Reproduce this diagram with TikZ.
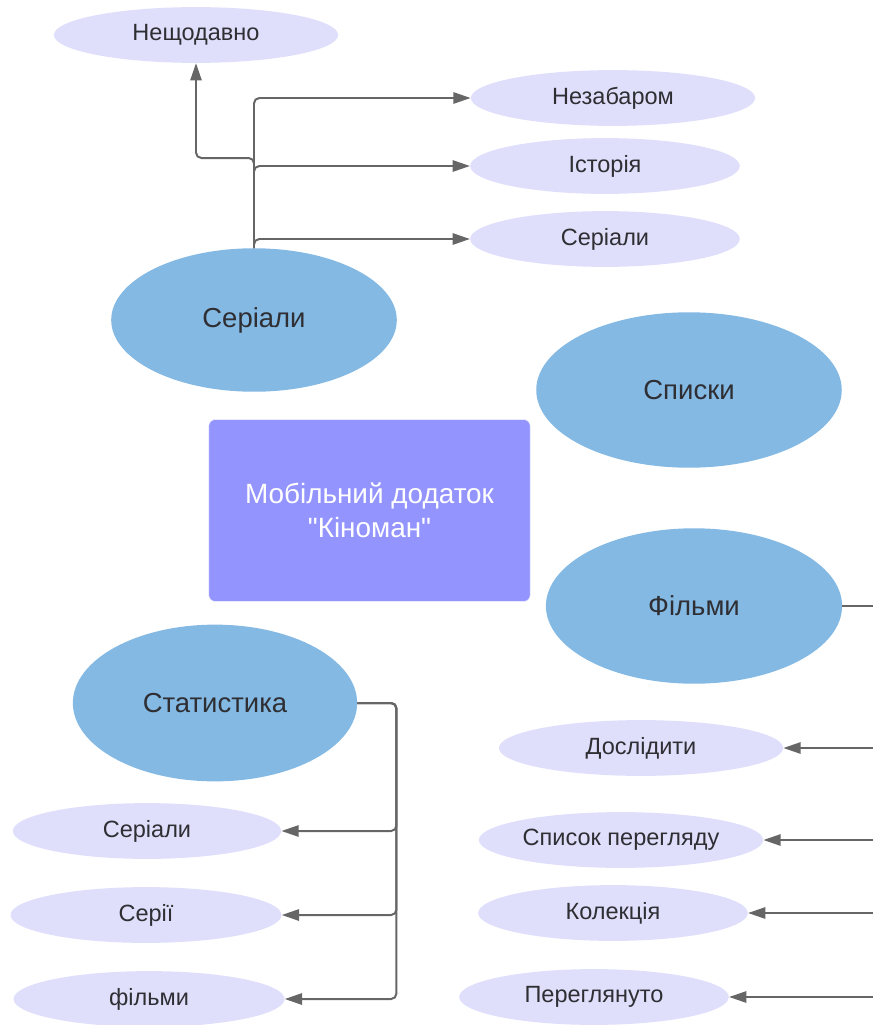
\documentclass[tikz,border=0pt]{standalone}
\usepackage{fontspec}
\setmainfont{Liberation Sans}[Ligatures=TeXOff]
\usetikzlibrary{arrows.meta,shapes.geometric}
\definecolor{bigblue}{HTML}{84B9E3}
\definecolor{lavender}{HTML}{DFDFFC}
\definecolor{appviolet}{HTML}{9494FF}
\definecolor{linkgray}{HTML}{666666}
\definecolor{textdark}{HTML}{2E2E33}

\begin{document}
\begin{tikzpicture}[
  x=0.0264583cm,y=-0.0264583cm,
  big/.style={ellipse,fill=bigblue,inner sep=0pt,text=textdark,font=\fontsize{20.7}{24}\selectfont},
  small/.style={ellipse,fill=lavender,inner sep=0pt,minimum height=42pt,text=textdark,font=\fontsize{17.7}{20}\selectfont},
  app/.style={draw=white!80!appviolet,fill=appviolet,rounded corners=5pt,minimum width=242pt,minimum height=137pt,
    text=white,align=center,font=\fontsize{21}{25.5}\selectfont},
  link/.style={-{Triangle[length=13pt,width=8.5pt]},line width=1.5pt,draw=linkgray,rounded corners=4pt},
  line/.style={line width=1.5pt,draw=linkgray}
]
  \useasboundingbox (0,0) rectangle (873,1025);

  \node[big,minimum width=215pt,minimum height=108pt] (serialy) at (254,320) {Серіали};
  \node[big,minimum width=230pt,minimum height=117pt] (spysky) at (689,390) {Списки};
  \node[big,minimum width=223pt,minimum height=117pt] (filmy) at (694,606) {Фільми};
  \node[big,minimum width=214pt,minimum height=118pt] (statystyka) at (215,703) {Статистика};
  \node[app] (dodatok) at (369.5,510.5) {Мобільний додаток\\"Кіноман"};

  \node[small,minimum width=214pt] (nedavno) at (196,35) {Нещодавно};
  \node[small,minimum width=214pt] (nezabarom) at (613,98) {Незабаром};
  \node[small,minimum width=203pt] (istoriia) at (605,166) {Історія};
  \node[small,minimum width=203pt] (serialy2) at (605,239) {Серіали};

  \node[small,minimum width=214pt] (doslidyty) at (641,748) {Дослідити};
  \node[small,minimum width=214pt] (spysok) at (621,840) {Список перегляду};
  \node[small,minimum width=203pt] (kolektsiia) at (613,913) {Колекція};
  \node[small,minimum width=203pt] (perehlianuto) at (594,997) {Переглянуто};

  \node[small,minimum width=202pt] (statserialy) at (147,831) {Серіали};
  \node[small,minimum width=204pt] (statserii) at (146,915) {Серії};
  \node[small,minimum width=204pt] (statfilmy) at (149,999) {фільми};

  \coordinate (filmyend) at (873,606);
  \coordinate (r1) at (873,748);
  \coordinate (r2) at (873,840);
  \coordinate (r3) at (873,913);
  \coordinate (r4) at (873,997);

  \draw[link] (serialy.north) -- ++(0,-90) -| (nedavno.south);
  \draw[link] (serialy.north) |- (nezabarom.west);
  \draw[link] (serialy.north) |- (istoriia.west);
  \draw[link] (serialy.north) |- (serialy2.west);

  \draw[link] (statystyka.east) -- ++(39,0) |- (statserialy.east);
  \draw[link] (statystyka.east) -- ++(39,0) |- (statserii.east);
  \draw[link] (statystyka.east) -- ++(39,0) |- (statfilmy.east);

  \draw[line] (filmy.east) -- (filmyend);
  \draw[link] (r1) -- (doslidyty.east);
  \draw[link] (r2) -- (spysok.east);
  \draw[link] (r3) -- (kolektsiia.east);
  \draw[link] (r4) -- (perehlianuto.east);
\end{tikzpicture}
\end{document}
